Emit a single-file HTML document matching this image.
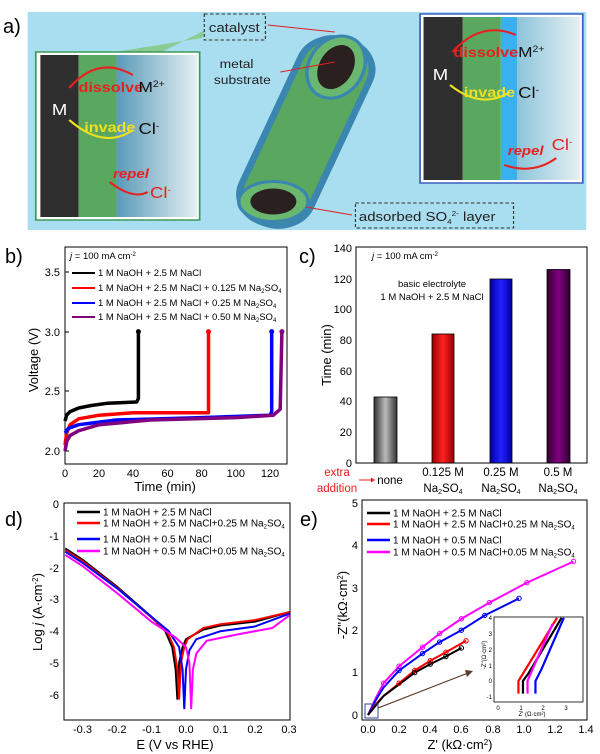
<!DOCTYPE html>
<html><head><meta charset="utf-8"><style>
body{margin:0;background:#fff}
svg{display:block;font-family:"Liberation Sans",Arial,sans-serif}
</style></head><body>
<svg width="600" height="754" viewBox="0 0 600 754" xmlns="http://www.w3.org/2000/svg">
<defs>
<linearGradient id="gl" x1="0" x2="1"><stop offset="0" stop-color="#5a9ab8"/><stop offset="1" stop-color="#e6f0f2"/></linearGradient>
<linearGradient id="gr" x1="0" x2="1"><stop offset="0" stop-color="#8cc4da"/><stop offset="1" stop-color="#e6f0f2"/></linearGradient>
<linearGradient id="bg" x1="0" x2="1"><stop offset="0" stop-color="#333"/><stop offset="0.5" stop-color="#bbb"/><stop offset="1" stop-color="#333"/></linearGradient>
<linearGradient id="br" x1="0" x2="1"><stop offset="0" stop-color="#900"/><stop offset="0.5" stop-color="#f22"/><stop offset="1" stop-color="#900"/></linearGradient>
<linearGradient id="bb" x1="0" x2="1"><stop offset="0" stop-color="#0000a0"/><stop offset="0.5" stop-color="#22f"/><stop offset="1" stop-color="#0000a0"/></linearGradient>
<linearGradient id="bp" x1="0" x2="1"><stop offset="0" stop-color="#300030"/><stop offset="0.5" stop-color="#800080"/><stop offset="1" stop-color="#300030"/></linearGradient>
</defs>

<!-- Panel a -->
<text x="3" y="33" font-size="20">a)</text>
<g transform="scale(1.154,1)">
<rect x="24" y="12" width="484" height="218" fill="#a8def0"/>
<polygon points="100,52 175,38 178,30 140,52" fill="#7cc46a" opacity="0.7"/>
<rect x="31" y="52" width="142" height="168" fill="#fff" stroke="#3a9a5a" stroke-width="1.5"/>
<rect x="35" y="55" width="33" height="162" fill="#2f2f2f"/>
<rect x="68" y="55" width="33" height="162" fill="#5aa860"/>
<rect x="101" y="55" width="70" height="162" fill="url(#gl)"/>
<text x="45" y="115" font-size="16" fill="#fff">M</text>
<text x="68" y="92" font-size="14" fill="#e8201e" font-weight="bold">dissolve</text>
<text x="120" y="92" font-size="15" fill="#111">M<tspan font-size="9" dy="-5">2+</tspan></text>
<text x="73" y="132" font-size="14" fill="#f0e020" font-weight="bold">invade</text>
<text x="120" y="134" font-size="16" fill="#111">Cl<tspan font-size="9" dy="-5">-</tspan></text>
<text x="98" y="178" font-size="13" fill="#e8201e" font-weight="bold" font-style="italic">repel</text>
<text x="130" y="198" font-size="16" fill="#e8201e">Cl<tspan font-size="9" dy="-5">-</tspan></text>
<path d="M60,88 Q85,55 115,75" stroke="#e8201e" stroke-width="2" fill="none"/>
<path d="M115,130 Q90,150 60,120" stroke="#f0e020" stroke-width="2" fill="none"/>
<path d="M95,182 Q115,200 128,192" stroke="#e8201e" stroke-width="2" fill="none"/>

<rect x="364" y="14" width="141" height="169" fill="#fff" stroke="#3b5fc0" stroke-width="1.5"/>
<rect x="367" y="17" width="34" height="163" fill="#2f2f2f"/>
<rect x="401" y="17" width="33" height="163" fill="#5aa860"/>
<rect x="434" y="17" width="14" height="163" fill="#3ab0f0"/>
<rect x="448" y="17" width="55" height="163" fill="url(#gr)"/>
<text x="375" y="80" font-size="16" fill="#fff">M</text>
<text x="393" y="57" font-size="14" fill="#e8201e" font-weight="bold">dissolve</text>
<text x="449" y="57" font-size="15" fill="#111">M<tspan font-size="9" dy="-5">2+</tspan></text>
<text x="402" y="97" font-size="14" fill="#f0e020" font-weight="bold">invade</text>
<text x="449" y="98" font-size="16" fill="#111">Cl<tspan font-size="9" dy="-5">-</tspan></text>
<text x="440" y="155" font-size="13" fill="#e8201e" font-weight="bold" font-style="italic">repel</text>
<text x="478" y="150" font-size="16" fill="#e8201e">Cl<tspan font-size="9" dy="-5">-</tspan></text>
<path d="M392,52 Q417,20 447,35" stroke="#e8201e" stroke-width="2" fill="none"/>
<path d="M442,92 Q417,110 390,85" stroke="#f0e020" stroke-width="2" fill="none"/>
<path d="M437,165 Q462,175 482,158" stroke="#e8201e" stroke-width="2" fill="none"/>

<g transform="translate(265,132) rotate(22)">
<rect x="-32" y="-98" width="64" height="196" rx="30" fill="#5aa860" stroke="#3a86b0" stroke-width="6"/>
<ellipse cx="0" cy="-70" rx="24" ry="32" fill="#6ab870" stroke="#3a86b0" stroke-width="3"/>
<ellipse cx="0" cy="-70" rx="15" ry="23" fill="#2a2020"/>
<ellipse cx="0" cy="75" rx="30" ry="20" fill="#6ab870" stroke="#3a86b0" stroke-width="3" transform="rotate(-22 0 75)"/>
<ellipse cx="0" cy="75" rx="20" ry="13" fill="#2a2020" transform="rotate(-22 0 75)"/>
</g>
<rect x="177" y="14" width="53" height="26" fill="none" stroke="#333" stroke-dasharray="3,2"/>
<text x="203" y="32" font-size="13" text-anchor="middle" fill="#222">catalyst</text>
<line x1="232" y1="25" x2="290" y2="32" stroke="#e02020" stroke-width="1"/>
<text x="205" y="68" font-size="12" text-anchor="middle" fill="#222">metal</text>
<text x="210" y="84" font-size="12" text-anchor="middle" fill="#222">substrate</text>
<line x1="243" y1="72" x2="290" y2="62" stroke="#e02020" stroke-width="1"/>
<rect x="308" y="203" width="137" height="25" fill="none" stroke="#333" stroke-dasharray="3,2"/>
<text x="311" y="221" font-size="13" fill="#222">adsorbed SO<tspan font-size="7" dy="3">4</tspan><tspan font-size="7" dy="-8">2-</tspan><tspan dy="5"> layer</tspan></text>
<line x1="265" y1="207" x2="305" y2="215" stroke="#e02020" stroke-width="1"/>
</g>

<!-- Panel b -->
<text x="5" y="263" font-size="20">b)</text>
<rect x="65" y="247" width="222" height="217" fill="none" stroke="#000" stroke-width="1"/>
<g font-size="11" text-anchor="end">
<text x="60" y="455">2.0</text><text x="60" y="395">2.5</text><text x="60" y="336">3.0</text><text x="60" y="276">3.5</text>
</g>
<g stroke="#000"><line x1="65" y1="451" x2="69" y2="451"/><line x1="65" y1="391" x2="69" y2="391"/><line x1="65" y1="332" x2="69" y2="332"/><line x1="65" y1="272" x2="69" y2="272"/></g>
<g font-size="11" text-anchor="middle">
<text x="65" y="477">0</text><text x="99" y="477">20</text><text x="133" y="477">40</text><text x="167.5" y="477">60</text><text x="201.6" y="477">80</text><text x="235.8" y="477">100</text><text x="270" y="477">120</text>
</g>
<text x="165" y="491" font-size="13" text-anchor="middle">Time (min)</text>
<text transform="translate(38,360) rotate(-90)" font-size="13" text-anchor="middle">Voltage (V)</text>
<g fill="none" stroke-width="3.5" stroke-linejoin="round">
<polyline stroke="#000" points="65,421 66.7,415 70.1,411.6 78.7,408 90.6,405.6 107.7,403.2 136.7,402 138.4,398.5 138.4,331.6"/>
<polyline stroke="#f00" points="65,445 66.7,433 70.1,424.7 78.7,418.8 99.2,415.2 133.3,412.8 208.5,412.8 208.5,331.6"/>
<polyline stroke="#00f" points="65,433 68.4,428.3 78.7,424.7 116.2,420 201.6,417.6 270,415.2 271.7,411.6 271.7,331.6"/>
<polyline stroke="#800080" points="65,451 66.7,441.4 70.1,435.5 78.7,430.7 99.2,424.7 150.4,420 235.8,417.6 273.4,415.2 280.2,409.2 281.9,331.6"/>
</g>
<circle cx="138.4" cy="331.6" r="2.5" fill="#000"/><circle cx="208.5" cy="331.6" r="2.5" fill="#f00"/><circle cx="271.7" cy="331.6" r="2.5" fill="#00f"/><circle cx="281.9" cy="331.6" r="2.5" fill="#800080"/>
<text x="70" y="259" font-size="9.5"><tspan font-style="italic">j</tspan> = 100 mA cm<tspan font-size="6" dy="-3">-2</tspan></text>
<g stroke-width="2"><line x1="72" y1="273" x2="95" y2="273" stroke="#000"/><line x1="72" y1="288" x2="95" y2="288" stroke="#f00"/><line x1="72" y1="303" x2="95" y2="303" stroke="#00f"/><line x1="72" y1="317" x2="95" y2="317" stroke="#800080"/></g>
<g font-size="9.5">
<text x="98" y="276">1 M NaOH + 2.5 M NaCl</text>
<text x="98" y="291">1 M NaOH + 2.5 M NaCl + 0.125 M Na<tspan font-size="6" dy="2">2</tspan><tspan dy="-2">SO</tspan><tspan font-size="6" dy="2">4</tspan></text>
<text x="98" y="306">1 M NaOH + 2.5 M NaCl + 0.25 M Na<tspan font-size="6" dy="2">2</tspan><tspan dy="-2">SO</tspan><tspan font-size="6" dy="2">4</tspan></text>
<text x="98" y="320">1 M NaOH + 2.5 M NaCl + 0.50 M Na<tspan font-size="6" dy="2">2</tspan><tspan dy="-2">SO</tspan><tspan font-size="6" dy="2">4</tspan></text>
</g>

<!-- Panel c -->
<text x="299" y="263" font-size="20">c)</text>
<rect x="356" y="247" width="231" height="216" fill="none" stroke="#000"/>
<g font-size="11" text-anchor="end">
<text x="352" y="467">0</text><text x="352" y="436">20</text><text x="352" y="405">40</text><text x="352" y="375">60</text><text x="352" y="344">80</text><text x="352" y="313">100</text><text x="352" y="283">120</text><text x="352" y="252">140</text>
</g>
<text transform="translate(331,355) rotate(-90)" font-size="13" text-anchor="middle">Time (min)</text>
<rect x="374" y="397" width="23" height="66" fill="url(#bg)" stroke="#000" stroke-width="0.8"/>
<rect x="432" y="334" width="22" height="129" fill="url(#br)" stroke="#000" stroke-width="0.8"/>
<rect x="490" y="279" width="22" height="184" fill="url(#bb)" stroke="#000" stroke-width="0.8"/>
<rect x="547" y="269.5" width="23" height="193.5" fill="url(#bp)" stroke="#000" stroke-width="0.8"/>
<text x="372" y="259" font-size="9.5"><tspan font-style="italic">j</tspan> = 100 mA cm<tspan font-size="6" dy="-3">-2</tspan></text>
<text x="432" y="287" font-size="9.5" text-anchor="middle">basic electrolyte</text>
<text x="432" y="300" font-size="9.5" text-anchor="middle">1 M NaOH + 2.5 M NaCl</text>
<g font-size="11.5" text-anchor="middle">
<text x="390" y="484">none</text>
<text x="443" y="476">0.125 M</text><text x="443" y="492">Na<tspan font-size="7" dy="2">2</tspan><tspan dy="-2">SO</tspan><tspan font-size="7" dy="2">4</tspan></text>
<text x="501" y="476">0.25 M</text><text x="501" y="492">Na<tspan font-size="7" dy="2">2</tspan><tspan dy="-2">SO</tspan><tspan font-size="7" dy="2">4</tspan></text>
<text x="558" y="476">0.5 M</text><text x="558" y="492">Na<tspan font-size="7" dy="2">2</tspan><tspan dy="-2">SO</tspan><tspan font-size="7" dy="2">4</tspan></text>
<text x="337" y="476" fill="#e82020">extra</text><text x="337" y="492" fill="#e82020">addition</text>
</g>
<line x1="359" y1="480" x2="371" y2="480" stroke="#e82020"/><polygon points="371,477.5 375,480 371,482.5" fill="#e82020"/>

<!-- Panel d -->
<text x="5" y="526" font-size="20">d)</text>
<rect x="64" y="503" width="226" height="217" fill="none" stroke="#000"/>
<g font-size="11" text-anchor="end">
<text x="59" y="508">0</text><text x="59" y="540">-1</text><text x="59" y="572">-2</text><text x="59" y="603">-3</text><text x="59" y="635">-4</text><text x="59" y="667">-5</text><text x="59" y="699">-6</text>
</g>
<g font-size="11" text-anchor="middle">
<text x="82.5" y="733">-0.3</text><text x="117" y="733">-0.2</text><text x="151.5" y="733">-0.1</text><text x="186" y="733">0.0</text><text x="220.5" y="733">0.1</text><text x="255" y="733">0.2</text><text x="289" y="733">0.3</text>
</g>
<text x="175" y="749" font-size="13" text-anchor="middle">E (V vs RHE)</text>
<text transform="translate(42,612) rotate(-90)" font-size="13" text-anchor="middle">Log <tspan font-style="italic">j</tspan>  (A·cm<tspan font-size="8" dy="-4">-2</tspan><tspan dy="4">)</tspan></text>
<g fill="none" stroke-width="2" transform="matrix(345,0,0,-31.8,186,504)">
<polyline vector-effect="non-scaling-stroke" stroke="#000" points="-0.35,-1.4 -0.3,-1.75 -0.2,-2.6 -0.1,-3.55 -0.06,-4.0 -0.04,-4.5 -0.03,-5.2 -0.025,-6.15 -0.02,-5.0 -0.01,-4.5 0,-4.25 0.05,-3.95 0.1,-3.82 0.2,-3.7 0.3,-3.4"/>
<polyline vector-effect="non-scaling-stroke" stroke="#f00" points="-0.35,-1.45 -0.3,-1.8 -0.2,-2.63 -0.1,-3.57 -0.055,-4.0 -0.035,-4.5 -0.025,-5.2 -0.02,-6.15 -0.015,-5.0 -0.005,-4.5 0.005,-4.25 0.05,-3.9 0.1,-3.78 0.2,-3.65 0.3,-3.4"/>
<polyline vector-effect="non-scaling-stroke" stroke="#00f" points="-0.35,-1.5 -0.3,-1.85 -0.2,-2.65 -0.1,-3.55 -0.05,-4.0 -0.02,-4.5 -0.01,-5.2 -0.005,-6.45 0,-5.2 0.01,-4.6 0.03,-4.25 0.1,-4.0 0.2,-3.85 0.3,-3.45"/>
<polyline vector-effect="non-scaling-stroke" stroke="#f0f" points="-0.35,-1.6 -0.3,-1.95 -0.2,-2.8 -0.1,-3.7 -0.03,-4.2 0,-4.5 0.01,-5.0 0.015,-6.45 0.02,-5.2 0.03,-4.7 0.06,-4.3 0.15,-4.1 0.25,-3.9 0.3,-3.5"/>
</g>
<g stroke-width="2.5"><line x1="77" y1="512" x2="100" y2="512" stroke="#000"/><line x1="77" y1="523" x2="100" y2="523" stroke="#f00"/><line x1="77" y1="539" x2="100" y2="539" stroke="#00f"/><line x1="77" y1="551" x2="100" y2="551" stroke="#f0f"/></g>
<g font-size="10">
<text x="103" y="515.5">1 M NaOH + 2.5 M NaCl</text>
<text x="103" y="526.5">1 M NaOH + 2.5 M NaCl+0.25 M Na<tspan font-size="6" dy="2">2</tspan><tspan dy="-2">SO</tspan><tspan font-size="6" dy="2">4</tspan></text>
<text x="103" y="542.5">1 M NaOH + 0.5 M NaCl</text>
<text x="103" y="554.5">1 M NaOH + 0.5 M NaCl+0.05 M Na<tspan font-size="6" dy="2">2</tspan><tspan dy="-2">SO</tspan><tspan font-size="6" dy="2">4</tspan></text>
</g>

<!-- Panel e -->
<text x="300" y="526" font-size="20">e)</text>
<rect x="362" y="500" width="225" height="220" fill="none" stroke="#000"/>
<g font-size="11" text-anchor="end">
<text x="358" y="719">0</text><text x="358" y="676">1</text><text x="358" y="634">2</text><text x="358" y="592">3</text><text x="358" y="549">4</text><text x="358" y="507">5</text>
</g>
<g font-size="11" text-anchor="middle">
<text x="368" y="733">0.0</text><text x="399" y="733">0.2</text><text x="430" y="733">0.4</text><text x="461" y="733">0.6</text><text x="493" y="733">0.8</text><text x="524" y="733">1.0</text><text x="555" y="733">1.2</text><text x="586" y="733">1.4</text>
</g>
<text x="460" y="749" font-size="13" text-anchor="middle">Z' (kΩ·cm<tspan font-size="8" dy="-4">2</tspan><tspan dy="4">)</tspan></text>
<text transform="translate(347,605) rotate(-90)" font-size="13" text-anchor="middle">-Z''(kΩ·cm<tspan font-size="8" dy="-4">2</tspan><tspan dy="4">)</tspan></text>
<g fill="none" stroke-width="2" transform="matrix(155.7,0,0,-42.4,368,715)">
<polyline vector-effect="non-scaling-stroke" stroke="#f0f" points="0,0 0.05,0.4 0.1,0.75 0.2,1.15 0.35,1.6 0.46,1.92 0.6,2.27 0.78,2.65 1.02,3.12 1.32,3.62"/>
<polyline vector-effect="non-scaling-stroke" stroke="#00f" points="0,0 0.05,0.35 0.1,0.65 0.2,1.05 0.35,1.45 0.46,1.72 0.6,2.0 0.75,2.35 0.97,2.75"/>
<polyline vector-effect="non-scaling-stroke" stroke="#f00" points="0,0 0.05,0.25 0.1,0.45 0.2,0.75 0.3,1.05 0.4,1.28 0.5,1.48 0.63,1.75"/>
<polyline vector-effect="non-scaling-stroke" stroke="#000" points="0,0 0.1,0.45 0.2,0.72 0.3,1.0 0.4,1.2 0.5,1.38 0.6,1.58"/>
</g>
<g fill="none" stroke-width="1">
<g stroke="#f0f"><circle cx="573.5" cy="561.5" r="2.2"/><circle cx="526.8" cy="582.7" r="2.2"/><circle cx="489.4" cy="602.6" r="2.2"/><circle cx="461.4" cy="618.8" r="2.2"/><circle cx="439.6" cy="633.6" r="2.2"/><circle cx="422.5" cy="647.2" r="2.2"/><circle cx="399.1" cy="666.2" r="2.2"/><circle cx="383.6" cy="683.2" r="2.2"/></g>
<g stroke="#00f"><circle cx="519" cy="598.4" r="2.2"/><circle cx="484.8" cy="615.4" r="2.2"/><circle cx="461.4" cy="630.2" r="2.2"/><circle cx="439.6" cy="642.1" r="2.2"/><circle cx="422.5" cy="653.5" r="2.2"/><circle cx="399.1" cy="670.5" r="2.2"/></g>
<g stroke="#f00"><circle cx="466" cy="640.8" r="2.2"/><circle cx="445.9" cy="652.2" r="2.2"/><circle cx="430.3" cy="660.7" r="2.2"/><circle cx="414.7" cy="670.5" r="2.2"/><circle cx="399.1" cy="683.2" r="2.2"/></g>
<g stroke="#000"><circle cx="461.4" cy="648" r="2.2"/><circle cx="445.9" cy="656.5" r="2.2"/><circle cx="430.3" cy="664.1" r="2.2"/><circle cx="414.7" cy="672.6" r="2.2"/></g>
</g>
<rect x="365" y="704" width="13" height="14" fill="none" stroke="#3040a0"/>
<line x1="378" y1="708" x2="468" y2="673" stroke="#5a3a2a" stroke-width="1.2"/><polygon points="473,671 465,670 467,677" fill="#5a3a2a"/>
<g stroke-width="2.5"><line x1="367" y1="513" x2="390" y2="513" stroke="#000"/><line x1="367" y1="524" x2="390" y2="524" stroke="#f00"/><line x1="367" y1="540" x2="390" y2="540" stroke="#00f"/><line x1="367" y1="552" x2="390" y2="552" stroke="#f0f"/></g>
<g font-size="10">
<text x="393" y="516.5">1 M NaOH + 2.5 M NaCl</text>
<text x="393" y="527.5">1 M NaOH + 2.5 M NaCl+0.25 M Na<tspan font-size="6" dy="2">2</tspan><tspan dy="-2">SO</tspan><tspan font-size="6" dy="2">4</tspan></text>
<text x="393" y="543.5">1 M NaOH + 0.5 M NaCl</text>
<text x="393" y="555.5">1 M NaOH + 0.5 M NaCl+0.05 M Na<tspan font-size="6" dy="2">2</tspan><tspan dy="-2">SO</tspan><tspan font-size="6" dy="2">4</tspan></text>
</g>
<!-- inset -->
<rect x="494" y="617" width="89" height="85" fill="#fff" stroke="#000" stroke-width="0.8"/>
<g fill="none" stroke-width="2.2" transform="matrix(22.7,0,0,-15.8,498,681)">
<polyline vector-effect="non-scaling-stroke" stroke="#f00" points="0.9,-0.8 0.9,0 1.2,0.7 2.6,4"/>
<polyline vector-effect="non-scaling-stroke" stroke="#000" points="1.1,-0.8 1.1,0 1.35,0.5 2.8,4"/>
<polyline vector-effect="non-scaling-stroke" stroke="#f0f" points="1.3,-0.8 1.3,0 1.6,1 2.4,3.6"/>
<polyline vector-effect="non-scaling-stroke" stroke="#00f" points="1.65,-0.8 1.65,0 1.9,0.7 2.9,4"/>
</g>
<g font-size="6" text-anchor="middle"><text x="498" y="710">0</text><text x="521" y="710">1</text><text x="543" y="710">2</text><text x="566" y="710">3</text></g>
<text x="532" y="716" font-size="6" text-anchor="middle">Z' (Ω·cm²)</text>
<g font-size="6" text-anchor="end"><text x="492" y="620">4</text><text x="492" y="636">3</text><text x="492" y="652">2</text><text x="492" y="668">1</text><text x="492" y="683">0</text><text x="492" y="699">-1</text></g>
<text transform="translate(486,655) rotate(-90)" font-size="6" text-anchor="middle">-Z''(Ω·cm²)</text>
</svg>
</body></html>
